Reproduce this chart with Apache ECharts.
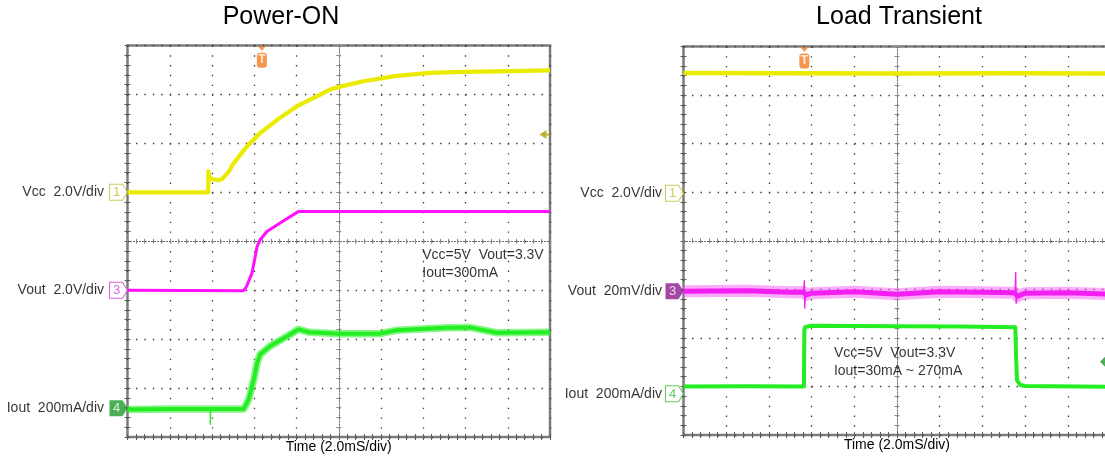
<!DOCTYPE html>
<html><head><meta charset="utf-8">
<script src="https://cdn.jsdelivr.net/npm/echarts@6/dist/echarts.min.js"></script>
<style>html,body{margin:0;padding:0;background:#fff}#c{width:1105px;height:462px}</style>
</head><body><div id="c"></div>
<script>
// ===== DATA (time in ms, 2.0 ms/div, 10 div) =====
const titles = ['Power-ON', 'Load Transient'];
const timeLabel = 'Time (2.0mS/div)';
const groundLevel = [[0, 0]];

// Power-ON: Vcc [V], Vout [V], Iout [mA]
const vccOn = [[0,0],[3.82,0],[3.83,0.86],[3.9,0.58],[4.1,0.52],[4.36,0.5],[4.5,0.56],[4.8,0.86],[5.02,1.18],[5.4,1.6],[5.66,1.88],[6.28,2.42],[7.08,2.96],[8.02,3.52],[8.96,3.92],[9.58,4.2],[10.08,4.32],[11.16,4.54],[12.74,4.76],[14.32,4.88],[15.9,4.92],[17.48,4.94],[20,4.98]];
const voutOn = [[0,0],[5.5,-0.02],[5.58,0],[5.64,0.16],[5.9,0.72],[6.14,1.8],[6.28,2.06],[6.6,2.4],[7.24,2.76],[8.1,3.22],[12,3.22],[20,3.22]];
const ioutOn = [[0,-6],[2,-4],[3.9,-4],[5.5,-4],[5.74,36],[5.98,118],[6.14,186],[6.28,220],[6.76,254],[7.56,294],[8.1,322],[8.6,310],[10,304],[11.9,304],[12.74,318],[15.1,328],[16.2,330],[17.48,308],[20,310]];
const ioutOnSpike = [[3.92,-4],[3.92,-66],[3.94,-4]];
const vccOnTrigLevel = [[20, 2.36]];
const noteOn = ['Vcc=5V  Vout=3.3V', 'Iout=300mA'];
const noteOnPos = [[13.93, 3.535]];
const trigOn = 6.36;

// Load Transient: Vcc [V], Vout deviation [mV], Iout [mA]
const vccLoad = [[0,4.95],[5,4.94],[10,4.93],[15,4.94],[20,4.93]];
const voutLoad = [[0,0],[3,0.2],[5,-0.4],[5.62,-0.3],[5.75,-1.5],[6,-0.8],[8,-0.2],[10,-1.2],[12,-0.2],[14,-0.4],[15.5,-0.6],[15.65,-2],[16,-0.8],[18,-0.6],[20,-1.2]];
const voutLoadSpike1 = [[5.63,-0.3],[5.66,4.4],[5.68,-7],[5.71,-1.5]];
const voutLoadSpike2 = [[15.53,-0.6],[15.56,7.8],[15.58,-5],[15.62,-2]];
const ioutLoad = [[0,30],[3,31],[5.64,30],[5.66,262],[5.7,275],[6,280],[10,278],[13,277],[15.54,274],[15.58,150],[15.62,56],[15.77,36],[16,32],[20,28]];
const ioutLoadTrigLevel = [[20, 132]];
const noteLoad = ['Vcc=5V  Vout=3.3V', 'Iout=30mA ~ 270mA'];
const noteLoadPos = [[7.02, 1.51]];
const trigLoad = 5.66;

// ===== LAYOUT / STYLE =====
const FONT = '"Liberation Sans", Arial, Helvetica, sans-serif';
const TICK = '#5c5c5c';
const BADGE = 'path://M0,0H13L18,8L13,16H0Z';
const YEL = '#ebeb00', MAG = '#ff10ff', GRN = '#22ee22';

const panels = [
  { title: titles[0], titleX: 281, left: 127.5, top: 45.5, width: 422.5, height: 391.5, labelGap: 23,
    trig: trigOn, note: noteOn, notePos: noteOnPos,
    channels: [
      { badge:'1', label:'Vcc  2.0V/div', min:-10, max:6, data:vccOn, color:YEL, width:4.2, badgeColor:'#c4bd30', filled:false,
        trigLevel: vccOnTrigLevel, trigSymbol:'path://M0,5L7,0V4H11V6H7V10Z', trigColor:'#a9a200', trigSize:[11,9] },
      { badge:'3', label:'Vout  2.0V/div', min:-6, max:10, data:voutOn, color:MAG, width:3, badgeColor:'#d23cd2', filled:false },
      { badge:'4', label:'Iout  200mA/div', min:-118, max:1482, data:ioutOn, color:GRN, width:4, halo:'rgba(45,238,45,0.55)', haloWidth:7.5,
        spikes:[ioutOnSpike], badgeColor:'#1f9a2a', filled:true }
    ]},
  { title: titles[1], titleX: 899, left: 683.5, top: 46.5, width: 427, height: 388.5, labelGap: 21,
    trig: trigLoad, note: noteLoad, notePos: noteLoadPos,
    channels: [
      { badge:'1', label:'Vcc  2.0V/div', min:-9.96, max:6.04, data:vccLoad, color:YEL, width:4.5, badgeColor:'#c4bd30', filled:false },
      { badge:'3', label:'Vout  20mV/div', min:-59.2, max:100.8, data:voutLoad, color:'#f21ef2', width:5, halo:'rgba(248,90,248,0.5)', haloWidth:12,
        spikes:[voutLoadSpike1, voutLoadSpike2], badgeColor:'#8e1a8e', filled:true },
      { badge:'4', label:'Iout  200mA/div', min:-170, max:1430, data:ioutLoad, color:GRN, width:4, badgeColor:'#3cbc3c', filled:false,
        trigLevel: ioutLoadTrigLevel, trigSymbol:'diamond', trigColor:'#1f9a2a', trigSize:[11,11] }
    ]}
];

const option = { animation:false, backgroundColor:'#ffffff', title:[], grid:[], xAxis:[], yAxis:[], series:[] };
const dotted = step => [1.4, step - 1.4];

panels.forEach(p => {
  const g = option.grid.length;
  option.grid.push({ left:p.left, top:p.top, width:p.width, height:p.height, show:true, borderColor:'#7c7c7c', borderWidth:2.5,
    backgroundColor:'rgba(0,0,0,0)', outerBoundsMode:'none', containLabel:false });
  option.title.push({ text:p.title, left:p.titleX, top:5, padding:0, textAlign:'center',
    textStyle:{ fontFamily:FONT, fontSize:25, fontWeight:'normal', color:'#000' } });
  const xs = p.width / 50, ys = p.height / 40;
  const x0 = option.xAxis.length, y0 = option.yAxis.length;
  const xb = { gridIndex:g, type:'value', min:0, max:20, interval:2, axisLabel:{show:false}, splitLine:{show:false}, axisLine:{show:false} };
  const yb = { gridIndex:g, type:'value', min:0, max:8, interval:1, axisLabel:{show:false}, splitLine:{show:false}, axisLine:{show:false} };
  const edgeTick = { axisTick:{show:true, inside:true, length:3, lineStyle:{color:TICK}}, minorTick:{show:true, splitNumber:5, length:3, lineStyle:{color:TICK}} };
  const ctr = inside => ({ axisLine:{show:true, lineStyle:{color:'#6a6a6a', width:1, type:[1,2]}},
    axisTick:{show:true, inside:inside, length:2.5, lineStyle:{color:'#8a8a8a'}},
    minorTick:{show:true, splitNumber:5, length:2.5, lineStyle:{color:'#8a8a8a'}} });
  // x axes
  option.xAxis.push(Object.assign({}, xb, edgeTick, { position:'bottom', name:timeLabel, nameLocation:'middle', nameGap:3,
    nameTextStyle:{ fontFamily:FONT, fontSize:14, color:'#000', verticalAlign:'top' },
    splitLine:{ show:true, lineStyle:{ color:'#3a3a3a', width:1.3, type:dotted(ys) } } }));
  option.xAxis.push(Object.assign({}, xb, edgeTick, { position:'top' }));
  option.xAxis.push(Object.assign({}, xb, ctr(true), { position:'bottom', offset:-p.height/2 }));
  option.xAxis.push(Object.assign({}, xb, ctr(false), { position:'bottom', offset:-p.height/2 }));
  // y axes (divisions)
  option.yAxis.push(Object.assign({}, yb, edgeTick, { position:'left',
    splitLine:{ show:true, lineStyle:{ color:'#3a3a3a', width:1.3, type:dotted(xs) } } }));
  option.yAxis.push(Object.assign({}, yb, edgeTick, { position:'right' }));
  option.yAxis.push(Object.assign({}, yb, ctr(true), { position:'left', offset:-p.width/2 }));
  option.yAxis.push(Object.assign({}, yb, ctr(false), { position:'left', offset:-p.width/2 }));

  p.channels.forEach(c => {
    const yi = option.yAxis.length;
    option.yAxis.push({ gridIndex:g, type:'value', min:c.min, max:c.max, show:false, splitLine:{show:false} });
    const line = (data, color, width, z) => ({ type:'line', xAxisIndex:x0, yAxisIndex:yi, data:data, showSymbol:false, symbol:'none',
      lineStyle:{ color:color, width:width, join:'round' }, z:z, silent:true });
    if (c.halo) option.series.push(line(c.data, c.halo, c.haloWidth, 2));
    option.series.push(line(c.data, c.color, c.width, 3));
    (c.spikes || []).forEach(s => option.series.push(line(s, c.color, 1.3, 3)));
    // channel badge at ground level
    option.series.push({ type:'scatter', xAxisIndex:x0, yAxisIndex:yi, data:groundLevel, clip:false, silent:true,
      symbol:BADGE, symbolSize:[18,16], symbolOffset:[-9,0],
      itemStyle: c.filled ? { color:c.badgeColor } : { color:'#ffffff', borderColor:c.badgeColor, borderWidth:1 },
      label:{ show:true, position:'inside', offset:[-2,0.5], formatter:c.badge, color:c.filled ? '#ffffff' : c.badgeColor,
        fontSize:13, fontFamily:FONT }, z:6 });
    // channel name
    option.series.push({ type:'scatter', xAxisIndex:x0, yAxisIndex:yi, data:groundLevel, clip:false, silent:true,
      symbolSize:1, itemStyle:{ color:'rgba(0,0,0,0)' },
      label:{ show:true, position:'left', distance:p.labelGap, formatter:c.label, color:'#000', fontSize:14, fontFamily:FONT }, z:6 });
    if (c.trigLevel) option.series.push({ type:'scatter', xAxisIndex:x0, yAxisIndex:yi, data:c.trigLevel, clip:false, silent:true,
      symbol:c.trigSymbol, symbolSize:c.trigSize, symbolOffset:[-5,0], itemStyle:{ color:c.trigColor }, z:6 });
  });

  // trigger position marker "T"
  option.series.push({ type:'scatter', xAxisIndex:x0, yAxisIndex:y0, data:[[p.trig, 7.94]], clip:false, silent:true,
    symbol:'triangle', symbolRotate:180, symbolSize:[8,5], itemStyle:{ color:'#f47a20' }, z:7 });
  option.series.push({ type:'scatter', xAxisIndex:x0, yAxisIndex:y0, data:[[p.trig, 7.70]], clip:false, silent:true,
    symbol:'roundRect', symbolSize:[10,15], itemStyle:{ color:'#f47a20' },
    label:{ show:true, position:'inside', formatter:'T', color:'#ffffff', fontWeight:'bold', fontSize:12, fontFamily:FONT }, z:7 });
  // annotation text
  option.series.push({ type:'scatter', xAxisIndex:x0, yAxisIndex:y0, data:p.notePos, clip:false, silent:true,
    symbolSize:1, itemStyle:{ color:'rgba(0,0,0,0)' },
    label:{ show:true, position:'right', distance:0, formatter:p.note.join('\n'), color:'#000', fontSize:14, lineHeight:18,
      align:'left', fontFamily:FONT }, z:7 });
});

const chart = echarts.init(document.getElementById('c'), null, { renderer:'canvas' });
chart.setOption(option);
</script>
</body></html>
